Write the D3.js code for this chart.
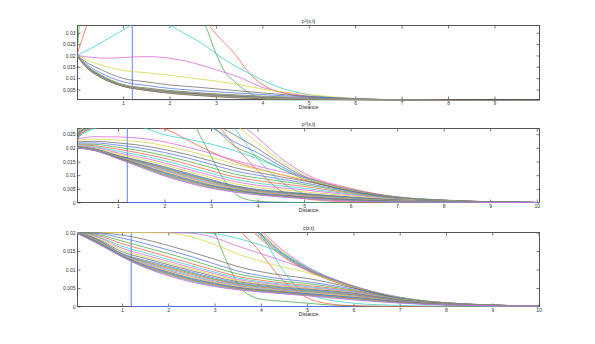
<!DOCTYPE html>
<html><head><meta charset="utf-8">
<script src="https://cdn.jsdelivr.net/npm/d3@7"></script>
<style>body{margin:0;background:#fff}</style>
</head><body><svg id="c" width="595" height="344"></svg>
<script>
// values in units of 1e-4
const COLORS = ["#5070f2","#44a844","#f25c42","#34cccc","#da62da","#d4d43c","#686868"];
const STEP_X = [0,1.2,1.2,10.2];
const STEP_V = [400,400,0,0];

// ---------- Panel 1: rho^1 ----------
const P1_GRID = [0,0.25,0.5,1,1.5,2,2.5,3,3.5,4,4.5,5,6,7,8,10];
const P1_GREEN_X = [0,0.03,0.06,0.1,1,2.5,2.77,3.0,3.2,3.4,3.6,3.75,4.1,4.5,5,10];
const P1_GREEN_V = [200,260,340,400,500,400,332,210,126,86,50,31,6,2,1,0];
const P1_RED_X = [0,0.1,0.22,0.4,1.5,2.75,3.0,3.38,3.74,4.1,4.53,5.04,5.6,6.2,7,10];
const P1_RED_V = [200,260,332,400,500,360,295,214,118,60,31,16,8,4,1,0];
const P1_CYAN_X = [0,0.3,0.6,0.9,1.16,1.6,2.02,2.3,2.67,3.2,3.74,4.46,5.04,6,7,10];
const P1_CYAN_V = [200,230,265,300,332,370,332,300,257,180,118,53,26,8,3,0];
const P1_MAG_X = [0,0.25,0.5,0.7,1,1.5,2,2.5,3,3.5,4,4.5,5,6,7,10];
const P1_MAG_V = [200,193,189,188,191,195,188,168,137,104,60,35,20,7,3,0];
const P1_FAMILY = [
  [200,178,160,134,124,113,100,87,72,52,38,27,11,4,1,0],
  [200,165,140,99,84,70,62,53,44,35,27,20,10,4,1,0],
  [200,156,125,84,68,55,47,40,34,28,22,17,9,4,1,0],
  [200,150,117,72,57,46,38,31,26,21,17,13,8,4,1,0],
  [200,147,114,70,55,44,36,29,24,19,15,12,7,4,2,0],
  [200,146,113,69,54,43,35,28,23,18,14,11,7,4,2,0],
  [200,146,112,68,53,42,34,27,22,17,14,11,7,3,2,0],
  [200,145,111,68,52,41,33,26,21,16,13,10,6,3,2,0],
  [200,145,111,67,51,40,32,25,20,15,12,10,6,3,1,0],
  [200,144,110,67,50,39,31,24,19,15,12,9,6,3,1,0],
  [200,143,109,66,49,38,30,23,18,14,11,9,5,3,1,0],
  [200,143,108,66,49,37,29,22,17,13,10,8,5,2,1,0],
  [200,142,108,65,48,36,28,21,16,12,10,8,5,2,1,0],
  [200,141,107,65,47,35,27,20,15,11,9,7,4,2,1,0],
  [200,141,106,64,47,34,26,19,14,10,8,6,4,2,1,0],
  [200,140,105,64,46,33,25,18,13,9,7,5,3,2,1,0]
];
const P1_X_TICKS = [1,2,3,4,5,6,7,8,9];
const P1_Y_TICKS = [0.005,0.01,0.015,0.02,0.025,0.03];

// ---------- Panel 2: rho^2 ----------
const P2_GRID = [0.13,0.5,1,1.5,2,2.5,3,3.5,4,4.5,5,6,7,8,10];
const P2_GREEN_X = [0.13,0.17,0.22,0.5,2.0,2.6,2.75,3.0,3.2,3.5,3.85,4.3,5,10];
const P2_GREEN_V = [225,260,290,380,400,300,250,170,105,36,8,2,0,0];
const P2_RED_X = [0.13,0.2,0.3,0.6,2.5,3.0,3.2,3.5,3.77,4.0,4.2,4.56,5,5.5,6,10];
const P2_RED_V = [228,255,290,350,380,300,271,210,159,118,85,36,15,6,2,0];
const P2_CYAN_X = [0.13,0.3,0.5,1,3,3.5,3.78,4.0,4.2,4.6,5,6,7,10];
const P2_CYAN_V = [235,262,275,320,320,271,208,160,122,65,32,8,2,0];
const P2_FAMILY = [
  [262,300,320,330,330,330,320,300,237,163,107,52,21,9,0],
  [259,295,315,322,322,318,305,285,218,152,101,50,20,9,0],
  [256,290,308,314,312,303,290,248,198,142,96,48,20,8,0],
  [253,285,300,304,300,290,274,222,182,133,91,46,19,8,0],
  [250,280,292,293,290,285,276,207,168,124,86,44,18,8,0],
  [246,275,285,282,270,228,186,150,124,102,82,42,18,7,0],
  [240,271,283,275,248,232,214,190,160,125,92,44,18,8,0],
  [233,241,240,235,222,202,180,155,133,113,94,46,19,8,0],
  [228,232,229,222,208,189,166,141,121,103,86,44,19,8,0],
  [222,224,218,209,194,175,152,128,110,94,79,42,18,8,0],
  [218,218,210,199,183,163,140,116,100,86,72,40,17,7,0],
  [214,213,202,189,172,151,128,104,90,78,66,37,16,7,0],
  [211,208,195,180,162,140,116,94,80,69,59,34,15,6,0],
  [208,204,188,172,153,130,107,85,71,61,52,31,14,6,0],
  [206,201,182,165,145,122,99,77,63,54,46,28,12,5,0],
  [205,198,177,158,138,114,91,69,55,47,39,24,11,5,0],
  [204,196,172,152,131,107,84,62,48,40,33,20,9,4,0],
  [203,195,171,150,128,104,81,60,46,38,31,19,9,4,0],
  [203,195,170,148,125,101,78,58,44,36,30,17,8,4,0],
  [202,194,169,146,122,98,75,56,42,34,28,16,8,3,0],
  [202,194,168,144,119,95,72,54,40,33,26,15,7,3,0],
  [202,193,167,142,116,92,69,52,39,31,25,13,6,3,0],
  [201,193,166,140,113,89,66,50,37,29,23,12,6,2,0],
  [201,192,165,138,110,86,63,48,35,27,21,11,5,2,0],
  [201,192,164,136,107,83,61,46,33,26,20,10,4,2,0],
  [201,191,163,134,104,80,59,44,32,24,18,8,4,2,0],
  [200,191,162,132,101,77,56,42,30,23,17,7,3,1,0],
  [200,190,161,130,99,74,54,40,29,21,15,6,3,1,0],
  [200,190,160,128,97,72,52,38,28,20,14,5,2,1,0]
];
const P2_X_TICKS = [1,2,3,4,5,6,7,8,9,10];
const P2_Y_TICKS = [0,0.005,0.01,0.015,0.02,0.025];

// ---------- Panel 3: c ----------
const P3_GRID = [0,0.5,1,1.5,2,2.5,3,3.5,4,4.5,5,6,7,8,10];
const P3_GREEN_X = [0,1,2.6,2.8,3.0,3.2,3.4,3.6,3.8,4.0,4.5,5,5.5,6,7,10];
const P3_GREEN_V = [200,300,260,235,200,140,85,45,28,20,14,9,4,2,0,0];
const P3_RED_X = [0,1,3.4,3.6,3.9,4.15,4.35,4.6,4.85,5.1,5.5,6,7,10];
const P3_RED_V = [200,300,240,200,160,120,88,56,34,18,7,2,0,0];
const P3_CYAN_X = [0,1,3.8,4.0,4.2,4.45,4.8,5.2,5.6,6,7,8,10];
const P3_CYAN_V = [200,300,240,200,155,103,50,26,15,9,3,1,0];
const P3_FAMILY = [
  [200,200,200,200,200,200,200,260,205,150,108,56,25,10,1],
  [200,200,200,200,200,200,200,255,200,146,105,55,24,10,1],
  [200,200,200,200,200,200,200,250,196,142,103,54,24,10,1],
  [200,200,200,200,200,200,200,245,192,139,101,53,23,9,1],
  [200,200,200,200,200,200,200,240,187,136,99,52,23,9,1],
  [200,200,200,200,200,200,200,232,182,133,97,51,22,9,1],
  [200,200,200,200,200,200,197,184,166,141,106,55,25,10,1],
  [200,200,200,200,200,198,186,163,143,122,100,54,24,10,1],
  [200,200,200,200,199,188,168,142,122,106,92,52,24,10,1],
  [200,199,193,181,165,147,128,108,94,84,76,50,23,9,1],
  [200,197,185,170,153,135,115,96,83,74,67,47,22,9,1],
  [200,194,177,160,143,125,106,88,77,68,62,44,21,9,1],
  [200,191,170,152,134,116,98,81,71,63,57,42,20,9,1],
  [200,188,163,145,127,110,93,77,67,60,54,40,20,8,1],
  [200,186,158,139,122,105,89,73,64,57,51,39,19,8,1],
  [200,184,153,134,117,101,85,70,61,55,49,37,19,8,1],
  [200,181,148,130,113,97,81,67,59,52,47,36,18,8,1],
  [200,179,143,125,109,93,77,64,56,50,45,34,17,8,1],
  [200,178,142,122,106,90,74,62,54,48,43,32,16,7,1],
  [200,177,141,120,103,87,72,60,52,46,41,31,16,7,1],
  [200,176,140,118,100,84,69,58,50,44,40,29,15,7,1],
  [200,175,139,116,97,81,67,56,48,43,38,28,14,6,1],
  [200,174,138,114,95,79,65,54,47,41,37,27,13,6,1],
  [200,173,137,112,93,76,63,52,45,40,35,25,13,6,1],
  [200,172,137,110,91,74,61,51,44,38,34,24,12,5,1],
  [200,171,136,108,89,72,59,49,43,37,32,22,11,5,1],
  [200,170,135,107,87,70,57,48,41,36,31,21,11,5,1],
  [200,169,135,106,85,68,55,46,40,35,30,19,10,4,1],
  [200,168,134,105,83,66,54,45,39,34,29,18,9,4,1]
];
const P3_X_TICKS = [1,2,3,4,5,6,7,8,9,10];
const P3_Y_TICKS = [0,0.005,0.01,0.015,0.02];

const L = 77.5, R = 539.5, H = 74, CX = (L + R) / 2;
const FONT = "'Liberation Sans', Arial, sans-serif";
const svg = d3.select("#c");
const defs = svg.append("defs");

function zip(xs, vs){ return xs.map((xv, i) => [xv, vs[i]]); }

const panels = [
  { top: 25.5, xDomain: [0.02, 9.97], yDomain: [0.0006, 0.0332], xTicks: P1_X_TICKS, yTicks: P1_Y_TICKS,
    title: ["ρ", "1", "(x,t)"],
    special: [zip(P1_GREEN_X, P1_GREEN_V), zip(P1_RED_X, P1_RED_V), zip(P1_CYAN_X, P1_CYAN_V), zip(P1_MAG_X, P1_MAG_V)],
    grid: P1_GRID, family: P1_FAMILY },
  { top: 128.5, xDomain: [0.13, 10.06], yDomain: [0, 0.0271], xTicks: P2_X_TICKS, yTicks: P2_Y_TICKS,
    title: ["ρ", "2", "(x,t)"],
    special: [zip(P2_GREEN_X, P2_GREEN_V), zip(P2_RED_X, P2_RED_V), zip(P2_CYAN_X, P2_CYAN_V)],
    grid: P2_GRID, family: P2_FAMILY },
  { top: 232.5, xDomain: [0.04, 10.02], yDomain: [0, 0.02], xTicks: P3_X_TICKS, yTicks: P3_Y_TICKS,
    title: ["c(x,t)"],
    special: [zip(P3_GREEN_X, P3_GREEN_V), zip(P3_RED_X, P3_RED_V), zip(P3_CYAN_X, P3_CYAN_V)],
    grid: P3_GRID, family: P3_FAMILY }
];

panels.forEach((p, idx) => {
  const x = d3.scaleLinear().domain(p.xDomain).range([L, R]);
  const y = d3.scaleLinear().domain(p.yDomain).range([p.top + H, p.top]);
  const g = svg.append("g");
  const clipId = "clip" + idx;
  defs.append("clipPath").attr("id", clipId).append("rect")
    .attr("x", L).attr("y", p.top - 0.4).attr("width", R - L).attr("height", H + 1.2);

  g.append("rect").attr("x", L).attr("y", p.top).attr("width", R - L).attr("height", H)
    .attr("fill", "none").attr("stroke", "#555").attr("stroke-width", 1);

  function styleAxis(a){
    a.select(".domain").remove();
    a.selectAll("line").attr("stroke", "#555").attr("stroke-width", 0.8);
    a.selectAll("text").attr("font-size", 5).attr("fill", "#333").attr("font-family", FONT);
    a.attr("font-family", FONT);
  }
  styleAxis(g.append("g").attr("transform", `translate(0,${p.top + H})`)
    .call(d3.axisBottom(x).tickValues(p.xTicks).tickSizeInner(-3).tickSizeOuter(0).tickPadding(1.6).tickFormat(d3.format("d"))));
  styleAxis(g.append("g").attr("transform", `translate(0,${p.top})`)
    .call(d3.axisTop(x).tickValues(p.xTicks).tickSizeInner(-3).tickSizeOuter(0).tickFormat("")));
  styleAxis(g.append("g").attr("transform", `translate(${L},0)`)
    .call(d3.axisLeft(y).tickValues(p.yTicks).tickSizeInner(-3).tickSizeOuter(0).tickPadding(2).tickFormat(d => String(d))));
  styleAxis(g.append("g").attr("transform", `translate(${R},0)`)
    .call(d3.axisRight(y).tickValues(p.yTicks).tickSizeInner(-3).tickSizeOuter(0).tickFormat("")));

  const smooth = d3.line().x(d => x(d[0])).y(d => y(d[1] * 1e-4)).curve(d3.curveMonotoneX);
  const straight = d3.line().x(d => x(d[0])).y(d => y(d[1] * 1e-4));
  const cg = g.append("g").attr("clip-path", `url(#${clipId})`).attr("fill", "none").attr("stroke-width", 0.75);

  cg.append("path").attr("d", straight(zip(STEP_X, STEP_V))).attr("stroke", COLORS[0]).attr("stroke-width", 0.9);
  let k = 1;
  p.special.forEach(pts => {
    cg.append("path").attr("d", smooth(pts)).attr("stroke", COLORS[k % 7]);
    k++;
  });
  p.family.forEach(row => {
    cg.append("path").attr("d", smooth(zip(p.grid, row))).attr("stroke", COLORS[k % 7]);
    k++;
  });

  const t = g.append("text").attr("x", CX).attr("y", p.top - 2.2).attr("text-anchor", "middle")
    .attr("font-size", 5).attr("font-family", FONT).attr("fill", "#222");
  if (p.title.length === 3) {
    t.append("tspan").text(p.title[0]);
    t.append("tspan").attr("font-size", 3.5).attr("dy", -1.6).text(p.title[1]);
    t.append("tspan").attr("dy", 1.6).text(p.title[2]);
  } else {
    t.text(p.title[0]);
  }
  g.append("text").attr("x", CX).attr("y", p.top + H + 9.8).attr("text-anchor", "middle")
    .attr("font-size", 5).attr("font-family", FONT).attr("fill", "#222").text("Distance");
});
</script>
</body></html>
